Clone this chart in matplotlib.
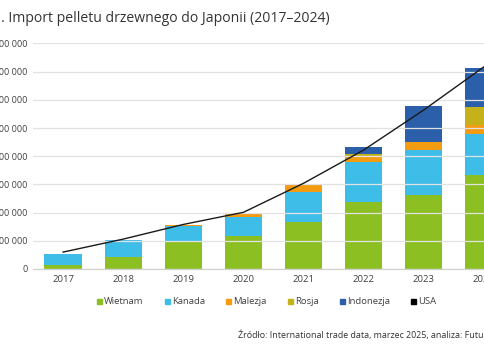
import matplotlib
matplotlib.use('Agg')
import matplotlib.pyplot as plt
from matplotlib.lines import Line2D
from matplotlib.ticker import FuncFormatter, MultipleLocator
import numpy as np

# ---- data (tonnes) ----
years = ['2017', '2018', '2019', '2020', '2021', '2022', '2023', '2024']
wietnam = [0.14e6, 0.41e6, 0.95e6, 1.17e6, 1.68e6, 2.39e6, 2.62e6, 3.33e6]
kanada = [0.39e6, 0.62e6, 0.58e6, 0.66e6, 1.04e6, 1.41e6, 1.60e6, 1.46e6]
malezja = [0, 0, 0.03e6, 0.17e6, 0.27e6, 0.22e6, 0.29e6, 0.32e6]
rosja = [0, 0, 0, 0, 0, 0.06e6, 0, 0.65e6]
indonezja = [0, 0, 0, 0, 0, 0.26e6, 1.27e6, 1.36e6]
usa = [0, 0, 0, 0, 0, 0, 0, 0]
razem = [0.60e6, 1.06e6, 1.58e6, 2.01e6, 3.04e6, 4.22e6, 5.64e6, 7.17e6]

series_names = ['Wietnam', 'Kanada', 'Malezja', 'Rosja', 'Indonezja', 'USA']
series_vals = [wietnam, kanada, malezja, rosja, indonezja, usa]
colors = ['#8cbf22', '#3fbde9', '#f39c12', '#c5b11a', '#2b5fa9', '#000000']

FONT = 'Open Sans'
TXT = '#404040'

W, H = 485, 360
fig = plt.figure(figsize=(W / 100, H / 100), dpi=100)
fig.patch.set_facecolor('white')

ax_left, ax_right = 33, 514
ax_bottom, ax_top = 269, 43.4
ax = fig.add_axes([ax_left / W, 1 - ax_bottom / H, (ax_right - ax_left) / W, (ax_bottom - ax_top) / H])

x = np.arange(len(years))
bottom = np.zeros(len(years))
for name, vals, c in zip(series_names, series_vals, colors):
    v = np.array(vals, dtype=float)
    ax.bar(x, v, width=0.62, bottom=bottom, color=c, zorder=2, linewidth=0)
    bottom += v

ax.plot(x, razem, color='#1a1a1a', linewidth=1.0, zorder=4)

ax.set_xlim(-0.5, len(years) - 0.5)
ax.set_ylim(0, 8e6)
ax.yaxis.set_major_locator(MultipleLocator(1e6))
ax.yaxis.set_major_formatter(FuncFormatter(lambda v, p: f"{int(round(v)):,}".replace(',', ' ')))
ax.grid(axis='y', color='#e2e2e2', linewidth=0.9, zorder=3)
ax.set_axisbelow(False)
for s in ['top', 'right', 'left']:
    ax.spines[s].set_visible(False)
ax.spines['bottom'].set_color('#d0d0d0')
ax.spines['bottom'].set_linewidth(0.9)
ax.spines['bottom'].set_zorder(3)
ax.set_xticks(x)
ax.set_xticklabels(years)
ax.tick_params(axis='y', length=0, pad=4, labelsize=6.5, labelcolor=TXT)
ax.tick_params(axis='x', length=0, pad=4, labelsize=6.8, labelcolor=TXT)
for lab in ax.get_xticklabels() + ax.get_yticklabels():
    lab.set_fontfamily(FONT)

# title (left part cropped)
TS = 10.1
title = '1. Import pelletu drzewnego do Japonii (2017–2024)'
fig.canvas.draw()
r = fig.canvas.get_renderer()
tmp = fig.text(0, 0, '1', fontsize=TS, family=FONT)
w1 = tmp.get_window_extent(r).width
tmp.remove()
fig.text((1 - w1) / W, 1 - 18 / H, title, fontsize=TS, family=FONT, color='#333333',
         ha='left', va='center')

# legend
handles = [Line2D([0], [0], marker='s', linestyle='none', markersize=3.6,
                  markerfacecolor=c, markeredgecolor=c) for c in colors]
leg = fig.legend(handles, series_names, loc='center left', bbox_to_anchor=(96 / W, 1 - 302 / H),
                 ncol=6, frameon=False, handlelength=0.6, handletextpad=0.25,
                 columnspacing=2.15, borderaxespad=0, borderpad=0,
                 prop={'family': FONT, 'size': 6.8})
for t in leg.get_texts():
    t.set_color(TXT)

fig.text(238 / W, 1 - 335 / H,
         'Źródło: International trade data, marzec 2025, analiza: FutureMetrics',
         fontsize=6.4, family=FONT, color='#333333', ha='left', va='center')

fig.savefig('out.png', dpi=100)
